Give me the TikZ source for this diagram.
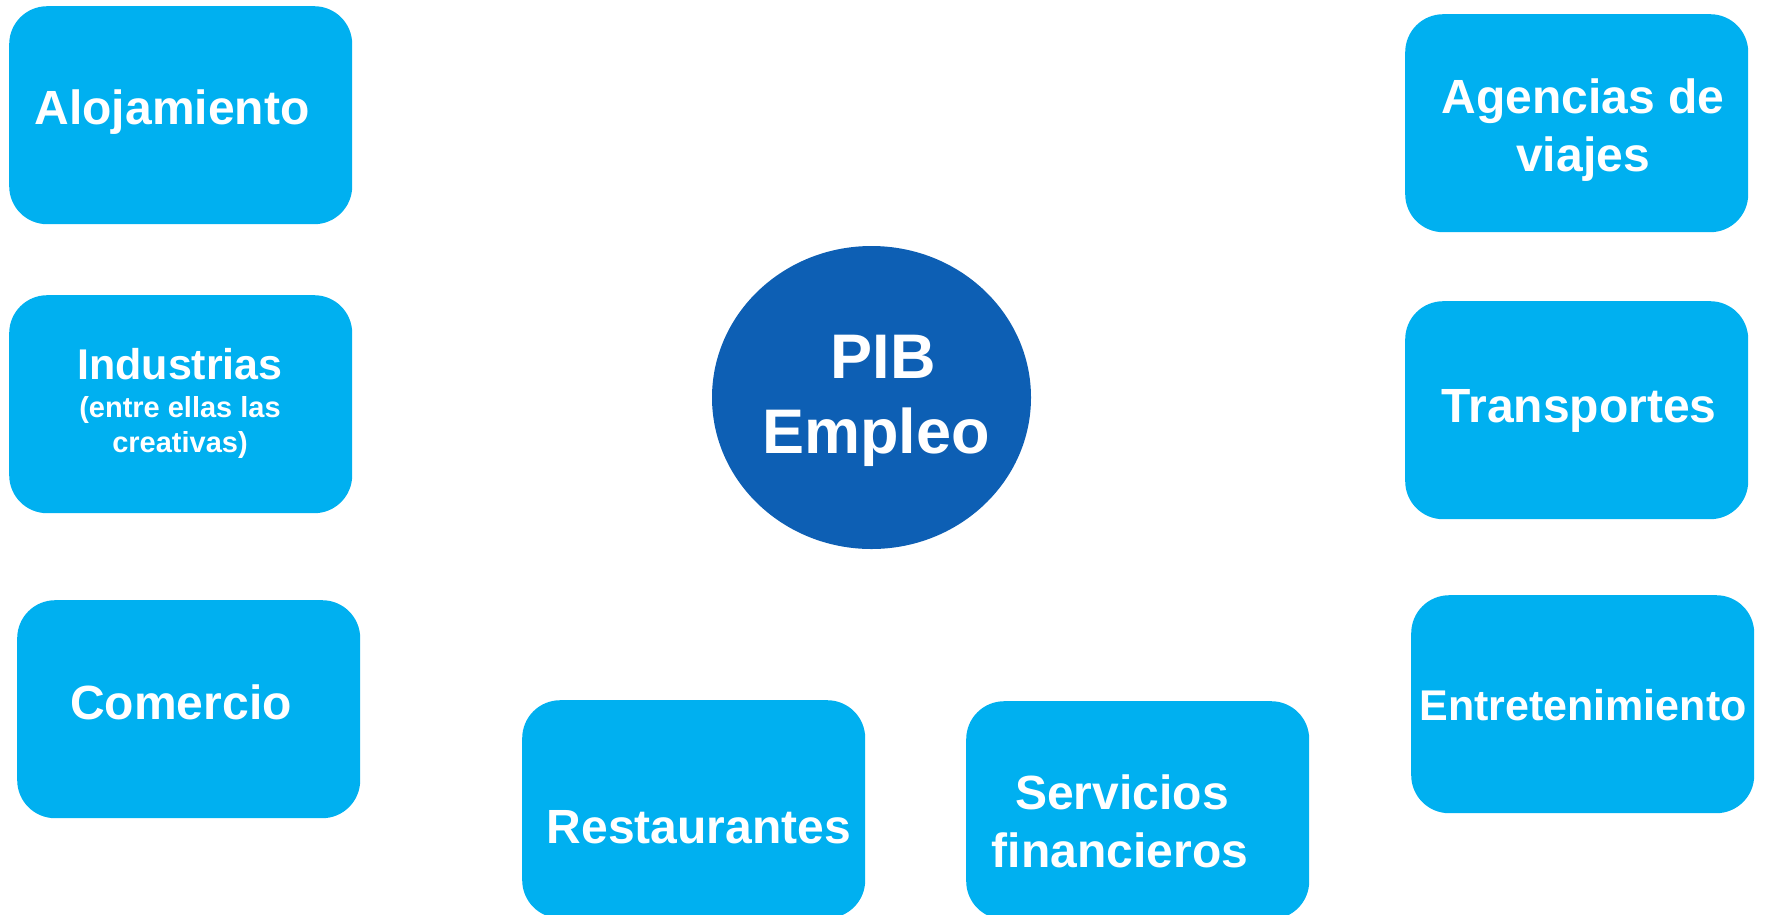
\documentclass[tikz,border=0pt]{standalone}
\usepackage{fontspec}
\setmainfont{Liberation Sans}
\usetikzlibrary{shapes.geometric}
\definecolor{boxblue}{RGB}{0,176,240}
\definecolor{circblue}{RGB}{13,95,180}
\begin{document}
\begin{tikzpicture}[x=1pt,y=-1pt,
  tile/.style={draw=none, fill=boxblue, rounded corners=38pt, inner sep=0pt,
    anchor=north west, minimum width=343pt, minimum height=218pt},
  lbl/.style={text=white, anchor=base, inner sep=0pt},
  big/.style={lbl, font=\bfseries\fontsize{48}{58}\selectfont},
  mid/.style={lbl, font=\bfseries\fontsize{43}{50}\selectfont},
  small/.style={lbl, font=\bfseries\fontsize{29}{35}\selectfont},
  huge/.style={lbl, font=\bfseries\fontsize{63}{76}\selectfont}]
\useasboundingbox (0,0) rectangle (1768,914);
\clip (0,0) rectangle (1768,914);
% boxes
\node[tile] (aloj) at (9,6) {};
\node[tile] (ind) at (9,295) {};
\node[tile] (com) at (17,600) {};
\node[tile] (rest) at (522,700) {};
\node[tile] (serv) at (966,701) {};
\node[tile] (agen) at (1405,14) {};
\node[tile] (trans) at (1405,301) {};
\node[tile] (entr) at (1411,595) {};
% centre ellipse
\node[ellipse, fill=circblue, draw=none, minimum width=319pt, minimum height=303pt, inner sep=0pt] (pib) at (871.5,397.5) {};
% labels
\node[big] (tAloj) at (172,124) {Alojamiento};
\node[mid] (tInd1) at (180,379) {Industrias};
\node[small] (tInd2) at (180,417) {(entre ellas las};
\node[small] (tInd3) at (180,452) {creativas)};
\node[big] (tCom) at (181,719) {Comercio};
\node[big] (tRest) at (699,843) {Restaurantes};
\node[big] (tServ1) at (1122,809) {Servicios};
\node[big] (tServ2) at (1120,867) {financieros};
\node[big] (tAgen1) at (1583,113) {Agencias de};
\node[big] (tAgen2) at (1583,171) {viajes};
\node[big] (tTrans) at (1579,422) {Transportes};
\node[mid] (tEntr) at (1583,720) {Entretenimiento};
\node[huge] (tPib1) at (883,378) {PIB};
\node[huge] (tPib2) at (876,453) {Empleo};
\end{tikzpicture}
\end{document}
